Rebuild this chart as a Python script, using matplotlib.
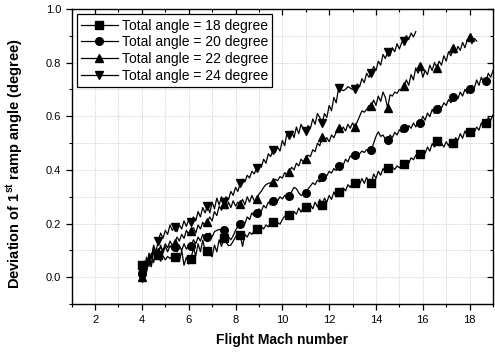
import numpy as np
import matplotlib
matplotlib.use("Agg")
import matplotlib.pyplot as plt
from matplotlib.ticker import MultipleLocator

plt.rcParams['font.family'] = ['Liberation Sans', 'DejaVu Sans']
plt.rcParams['mathtext.fontset'] = 'custom'
plt.rcParams['mathtext.rm'] = 'Liberation Sans'
plt.rcParams['mathtext.bf'] = 'Liberation Sans:bold'

# Flight Mach number sampled every 0.1 starting at Mach 4
mach_start = 4.0
mach_step = 0.1

dev_18 = [
    0.046, 0.030, 0.075, 0.040, 0.090, 0.055, 0.095,
    0.083, 0.060, 0.080, 0.065, 0.078, 0.070, 0.080,
    0.077, 0.085, 0.060, 0.100, 0.045, 0.075, 0.050,
    0.070, 0.110, 0.080, 0.125, 0.095, 0.138, 0.100,
    0.099, 0.085, 0.077, 0.120, 0.095, 0.140, 0.115,
    0.145, 0.130, 0.118, 0.120, 0.135, 0.150, 0.165,
    0.158, 0.115, 0.160, 0.150, 0.168, 0.160, 0.175,
    0.179, 0.172, 0.190, 0.180, 0.195, 0.188, 0.205,
    0.207, 0.200, 0.205, 0.198, 0.215, 0.228, 0.222,
    0.232, 0.225, 0.245, 0.235, 0.258, 0.243, 0.262,
    0.263, 0.245, 0.270, 0.255, 0.280, 0.262, 0.290,
    0.271, 0.295, 0.280, 0.305, 0.290, 0.318, 0.300,
    0.318, 0.310, 0.333, 0.322, 0.345, 0.335, 0.355,
    0.351, 0.362, 0.345, 0.368, 0.350, 0.372, 0.355,
    0.351, 0.385, 0.368, 0.395, 0.380, 0.405, 0.392,
    0.406, 0.398, 0.410, 0.402, 0.415, 0.408, 0.418,
    0.421, 0.430, 0.425, 0.445, 0.438, 0.455, 0.448,
    0.459, 0.470, 0.462, 0.485, 0.470, 0.498, 0.485,
    0.509, 0.490, 0.500, 0.485, 0.505, 0.490, 0.510,
    0.499, 0.520, 0.510, 0.535, 0.518, 0.545, 0.530,
    0.540, 0.548, 0.540, 0.560, 0.548, 0.575, 0.560,
    0.574, 0.595, 0.585, 0.605,
]

dev_20 = [
    0.015, 0.060, 0.025, 0.075, 0.040, 0.110, 0.070,
    0.083, 0.120, 0.090, 0.115, 0.095, 0.118, 0.105,
    0.114, 0.095, 0.120, 0.100, 0.125, 0.105, 0.120,
    0.117, 0.140, 0.125, 0.150, 0.135, 0.160, 0.140,
    0.149, 0.165, 0.150, 0.170, 0.175, 0.178, 0.176,
    0.175, 0.165, 0.150, 0.140, 0.155, 0.175, 0.190,
    0.199, 0.210, 0.200, 0.225, 0.215, 0.240, 0.228,
    0.241, 0.255, 0.245, 0.268, 0.258, 0.280, 0.270,
    0.283, 0.295, 0.285, 0.300, 0.292, 0.305, 0.298,
    0.303, 0.320, 0.335, 0.330, 0.315, 0.305, 0.310,
    0.315, 0.330, 0.340, 0.352, 0.345, 0.362, 0.355,
    0.372, 0.385, 0.378, 0.395, 0.388, 0.405, 0.398,
    0.415, 0.425, 0.418, 0.440, 0.430, 0.452, 0.445,
    0.457, 0.465, 0.460, 0.470, 0.465, 0.475, 0.470,
    0.474, 0.500, 0.525, 0.542, 0.525, 0.530, 0.515,
    0.511, 0.530, 0.520, 0.540, 0.530, 0.550, 0.540,
    0.556, 0.545, 0.565, 0.555, 0.575, 0.560, 0.580,
    0.576, 0.600, 0.585, 0.612, 0.598, 0.625, 0.610,
    0.628, 0.640, 0.630, 0.650, 0.640, 0.662, 0.650,
    0.670, 0.680, 0.665, 0.690, 0.675, 0.700, 0.685,
    0.700, 0.715, 0.705, 0.735, 0.715, 0.745, 0.725,
    0.731, 0.760, 0.745, 0.770,
]

dev_22 = [
    0.000, 0.050, 0.020, 0.085, 0.040, 0.100, 0.070,
    0.093, 0.115, 0.100, 0.125, 0.110, 0.135, 0.118,
    0.127, 0.150, 0.135, 0.160, 0.145, 0.175, 0.160,
    0.173, 0.185, 0.165, 0.195, 0.180, 0.205, 0.190,
    0.207, 0.225, 0.210, 0.245, 0.230, 0.265, 0.250,
    0.273, 0.255, 0.280, 0.260, 0.285, 0.265, 0.280,
    0.273, 0.290, 0.270, 0.300, 0.280, 0.305, 0.285,
    0.290, 0.310, 0.320, 0.335, 0.345, 0.350, 0.352,
    0.356, 0.365, 0.360, 0.375, 0.370, 0.390, 0.380,
    0.394, 0.410, 0.400, 0.425, 0.415, 0.440, 0.430,
    0.440, 0.455, 0.450, 0.475, 0.468, 0.500, 0.490,
    0.524, 0.510, 0.520, 0.505, 0.530, 0.520, 0.540,
    0.555, 0.540, 0.560, 0.545, 0.570, 0.555, 0.575,
    0.559, 0.580, 0.600, 0.620, 0.615, 0.625, 0.640,
    0.638, 0.660, 0.640, 0.675, 0.655, 0.690, 0.670,
    0.630, 0.680, 0.675, 0.690, 0.685, 0.700, 0.695,
    0.713, 0.735, 0.715, 0.755, 0.735, 0.780, 0.760,
    0.787, 0.745, 0.770, 0.755, 0.790, 0.770, 0.800,
    0.781, 0.805, 0.790, 0.825, 0.805, 0.840, 0.825,
    0.853, 0.835, 0.860, 0.845, 0.875, 0.855, 0.885,
    0.894, 0.870, 0.890, 0.880,
]

dev_24 = [
    -0.004, 0.060, 0.030, 0.090, 0.070, 0.120, 0.095,
    0.137, 0.165, 0.145, 0.175, 0.160, 0.195, 0.175,
    0.189, 0.170, 0.195, 0.180, 0.210, 0.190, 0.215,
    0.207, 0.225, 0.210, 0.245, 0.225, 0.260, 0.240,
    0.267, 0.240, 0.280, 0.255, 0.295, 0.270, 0.300,
    0.282, 0.300, 0.290, 0.320, 0.305, 0.335, 0.320,
    0.350, 0.365, 0.355, 0.380, 0.370, 0.395, 0.385,
    0.406, 0.420, 0.410, 0.440, 0.425, 0.460, 0.450,
    0.474, 0.465, 0.485, 0.470, 0.510, 0.490, 0.540,
    0.530, 0.545, 0.520, 0.560, 0.535, 0.570, 0.550,
    0.545, 0.565, 0.555, 0.590, 0.570, 0.610, 0.595,
    0.574, 0.610, 0.595, 0.640, 0.620, 0.670, 0.650,
    0.704, 0.700, 0.695, 0.700, 0.710, 0.705, 0.700,
    0.700, 0.720, 0.710, 0.740, 0.725, 0.760, 0.745,
    0.762, 0.785, 0.770, 0.805, 0.790, 0.830, 0.815,
    0.840, 0.825, 0.855, 0.840, 0.870, 0.850, 0.875,
    0.881, 0.900, 0.885, 0.910, 0.895, 0.915,
]

series = [
    ("Total angle = 18 degree", dev_18, "s"),
    ("Total angle = 20 degree", dev_20, "o"),
    ("Total angle = 22 degree", dev_22, "^"),
    ("Total angle = 24 degree", dev_24, "v"),
]

xticks = [2, 4, 6, 8, 10, 12, 14, 16, 18]
yticks = [0.0, 0.2, 0.4, 0.6, 0.8, 1.0]

fig = plt.figure(figsize=(4.95, 3.52), dpi=100)
ax = fig.add_axes([0.1448, 0.1358, 0.8512, 0.8392])

for label, vals, mk in series:
    x = mach_start + mach_step * np.arange(len(vals))
    ax.plot(x, vals, color='black', lw=0.9, marker=mk, markersize=5.5,
            markevery=7, label=label)

ax.set_xlim(1, 19)
ax.set_ylim(-0.1, 1.0)
ax.set_xticks(xticks)
ax.set_yticks(yticks)
ax.set_yticklabels([f"{v:.1f}" for v in yticks])
ax.xaxis.set_minor_locator(MultipleLocator(1))
ax.yaxis.set_minor_locator(MultipleLocator(0.1))

ax.grid(True, which='both', color='#c4c4c4', linestyle=(0, (1.2, 1.6)), lw=0.6)
ax.set_axisbelow(True)

ax.tick_params(which='both', direction='out', labelsize=8, colors='black',
               top=True, right=True)
ax.tick_params(which='major', length=4, width=0.9)
ax.tick_params(which='minor', length=2.5, width=0.8)
for t in ax.xaxis.get_major_ticks() + ax.xaxis.get_minor_ticks():
    t.tick2line.set_marker(3)
for t in ax.yaxis.get_major_ticks() + ax.yaxis.get_minor_ticks():
    t.tick2line.set_marker(0)
for s in ax.spines.values():
    s.set_linewidth(1.0)

ax.set_xlabel("Flight Mach number", fontsize=10, fontweight='bold', labelpad=6)
ax.set_ylabel(r"Deviation of 1$^{\mathbf{st}}$ ramp angle (degree)",
              fontsize=10.5, fontweight='bold')
ax.yaxis.set_label_coords(-0.108, 0.475)

leg = ax.legend(loc='upper left', fontsize=10, frameon=True, fancybox=False,
                edgecolor='black', framealpha=1, handlelength=2.6,
                borderpad=0.3, labelspacing=0.2, handletextpad=0.3,
                borderaxespad=0.4)
leg.get_frame().set_linewidth(0.9)

fig.savefig("out.png", dpi=100)
